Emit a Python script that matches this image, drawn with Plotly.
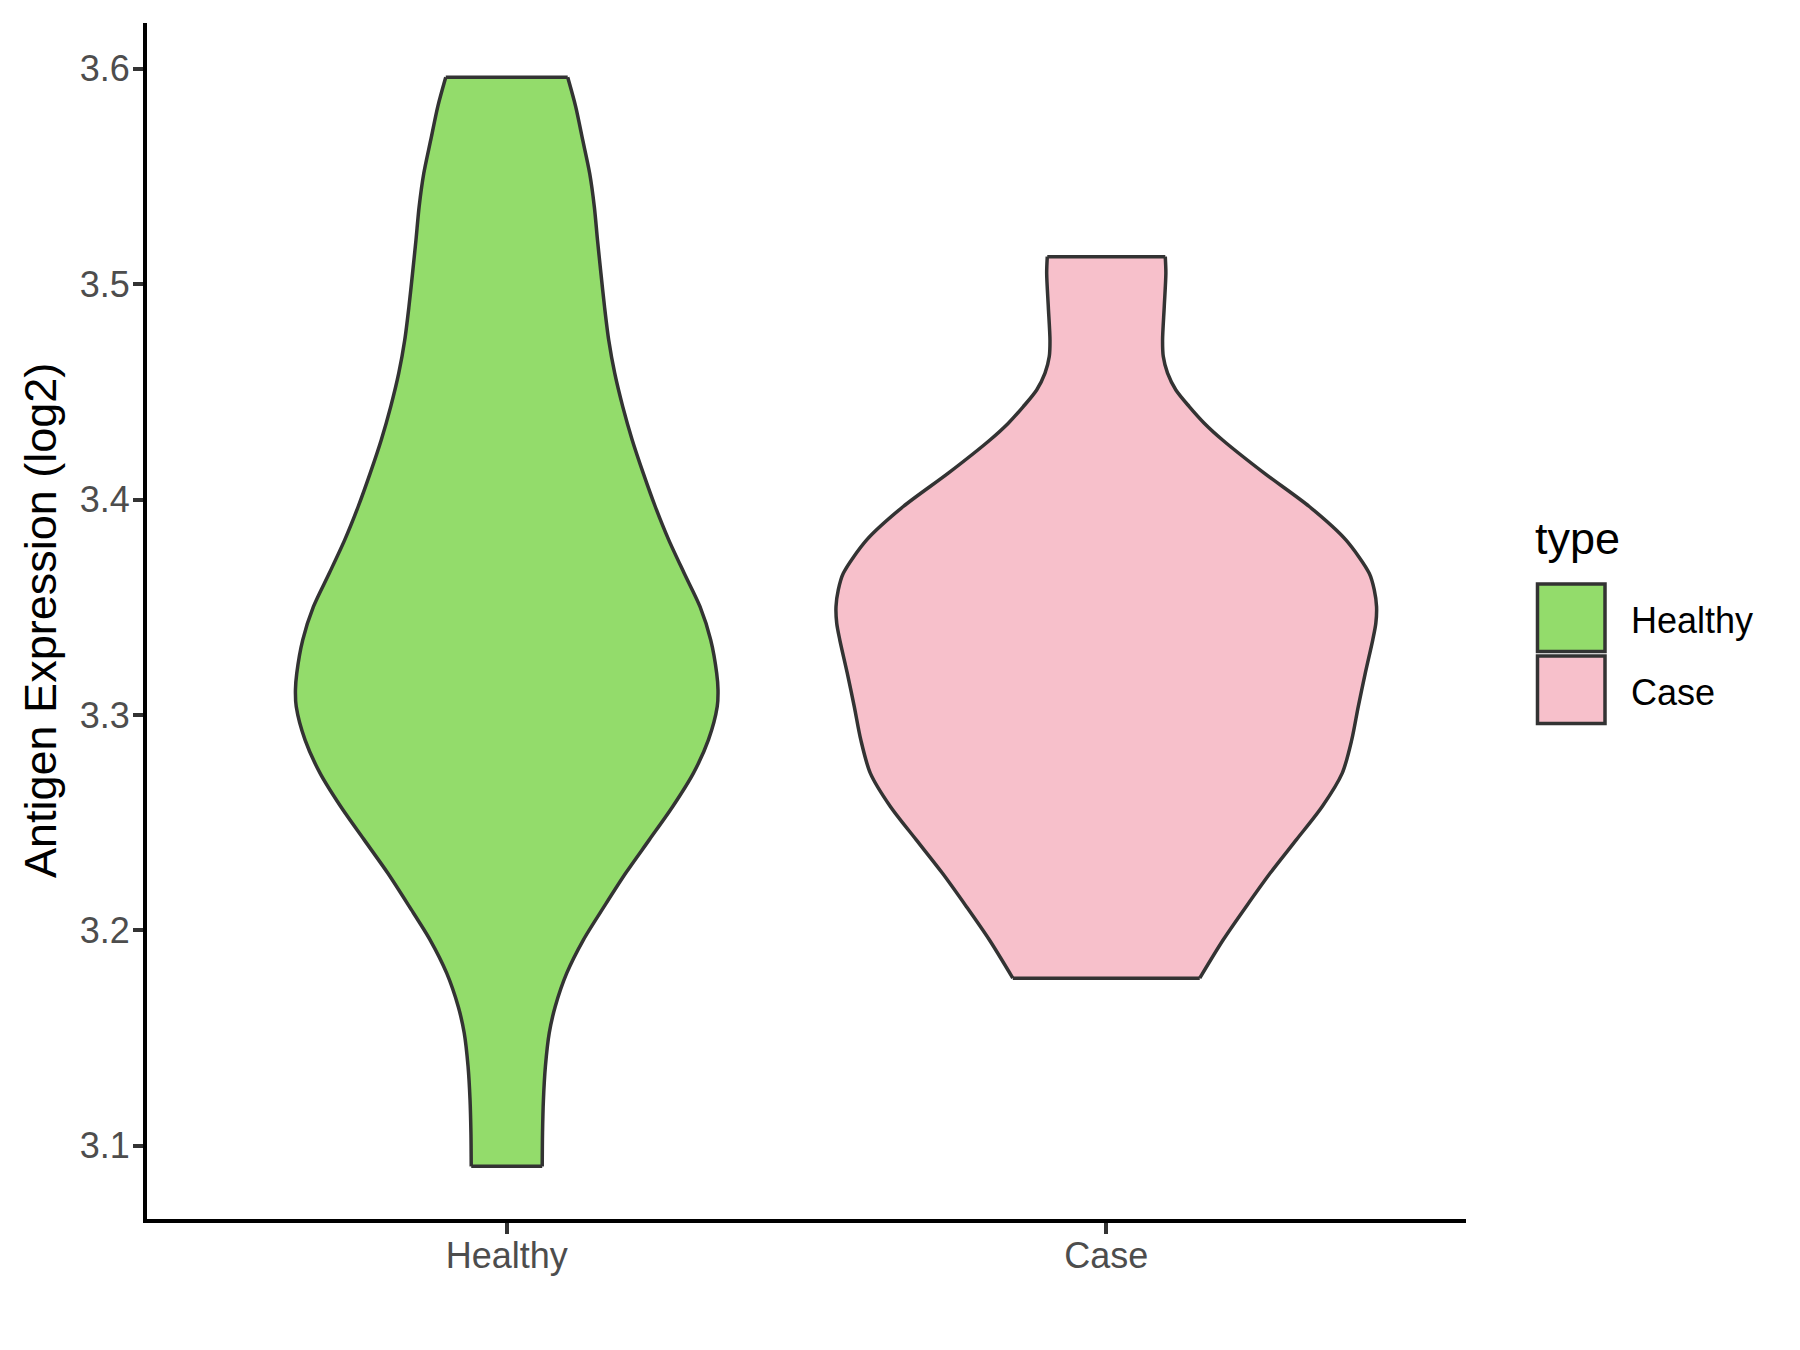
import plotly.graph_objects as go

# ---- data ----
categories = ["Healthy", "Case"]
category_pos = [1, 2]
fill_colors = ["#93DC6B", "#F7C0CB"]

healthy_y = [3.0904, 3.1059, 3.1213, 3.1368, 3.1523, 3.1646, 3.1801, 3.1956, 3.2111,
             3.2266, 3.2420, 3.2575, 3.2730, 3.2884, 3.3039, 3.3117, 3.3194, 3.3349,
             3.3503, 3.3658, 3.3813, 3.3968, 3.4123, 3.4277, 3.4432, 3.4587, 3.4741,
             3.4896, 3.5051, 3.5205, 3.5360, 3.5514, 3.5669, 3.5824, 3.5961]
healthy_halfwidth = [0.0592, 0.0597, 0.0612, 0.0645, 0.0709, 0.0809, 0.1001, 0.1279, 0.1626,
                     0.1985, 0.2377, 0.2769, 0.3114, 0.3364, 0.3511, 0.3524, 0.3502, 0.3402,
                     0.3224, 0.2960, 0.2702, 0.2477, 0.2277, 0.2093, 0.1935, 0.1801, 0.1701,
                     0.1631, 0.1571, 0.1514, 0.1461, 0.1384, 0.1268, 0.1151, 0.1017]

case_y = [3.1778, 3.1956, 3.2111, 3.2266, 3.2420, 3.2575, 3.2730, 3.2884, 3.3039,
          3.3194, 3.3349, 3.3426, 3.3503, 3.3581, 3.3658, 3.3813, 3.3968, 3.4123,
          3.4277, 3.4355, 3.4432, 3.4509, 3.4587, 3.4664, 3.4741, 3.4896, 3.5051, 3.5128]
case_halfwidth = [0.1559, 0.1951, 0.2335, 0.2735, 0.3169, 0.3602, 0.3936, 0.4094, 0.4203,
                  0.4320, 0.4445, 0.4496, 0.4508, 0.4470, 0.4386, 0.3996, 0.3386, 0.2635,
                  0.1940, 0.1634, 0.1384, 0.1161, 0.1022, 0.0951, 0.0939, 0.0967, 0.0994, 0.0984]

y_ticks = [3.1, 3.2, 3.3, 3.4, 3.5, 3.6]
y_ticktext = ["3.1", "3.2", "3.3", "3.4", "3.5", "3.6"]
y_title = "Antigen Expression (log2)"
legend_title = "type"

FONT = "Liberation Sans, Arial, sans-serif"
OUTLINE = "#333333"
LW = 3.5

fig = go.Figure()

profiles = [(healthy_y, healthy_halfwidth), (case_y, case_halfwidth)]
for name, pos, col, (ys, hw) in zip(categories, category_pos, fill_colors, profiles):
    right_x = [pos + w for w in hw]
    left_x = [pos - w for w in hw]
    # filled body (no outline)
    fig.add_trace(go.Scatter(
        x=right_x + left_x[::-1], y=list(ys) + list(ys)[::-1],
        mode="lines", fill="toself", fillcolor=col,
        line=dict(color="rgba(0,0,0,0)", width=0),
        name=name, showlegend=False, hoverinfo="skip"))
    # outline: two smooth sides plus straight top and bottom edges
    ox = right_x + [None] + left_x + [None] + [left_x[-1], right_x[-1]] + [None] + [left_x[0], right_x[0]]
    oy = list(ys) + [None] + list(ys) + [None] + [ys[-1], ys[-1]] + [None] + [ys[0], ys[0]]
    fig.add_trace(go.Scatter(
        x=ox, y=oy, mode="lines", connectgaps=False,
        line=dict(color=OUTLINE, width=LW, shape="spline", smoothing=0.8),
        showlegend=False, hoverinfo="skip"))

# plot area in pixels
L, R, T, B = 147, 1466, 23, 1219
W, H = 1800, 1350

def px(xp):
    return (xp - L) / (R - L)

def py(yp):
    return (B - yp) / (B - T)

fig.update_layout(
    width=W, height=H,
    margin=dict(l=L, r=W - R, t=T, b=H - B, pad=0),
    paper_bgcolor="white", plot_bgcolor="white",
    showlegend=False,
    font=dict(family=FONT),
)
fig.update_xaxes(
    range=[0.4, 2.6], tickvals=category_pos, ticktext=categories,
    showline=True, linecolor="black", linewidth=4,
    ticks="outside", ticklen=11, tickwidth=3.5, tickcolor=OUTLINE,
    tickfont=dict(size=36, color="#4D4D4D", family=FONT),
    showgrid=False, zeroline=False, ticklabelstandoff=-9,
)
fig.update_yaxes(
    range=[3.06596, 3.62131], tickvals=y_ticks, ticktext=y_ticktext,
    showline=True, linecolor="black", linewidth=4,
    ticks="outside", ticklen=10, tickwidth=3.5, tickcolor=OUTLINE,
    tickfont=dict(size=36, color="#4D4D4D", family=FONT),
    showgrid=False, zeroline=False, ticklabelstandoff=-4,
)

# y-axis title
fig.add_annotation(text=y_title, xref="paper", yref="paper", x=px(40), y=0.5,
                   textangle=-90, showarrow=False, xanchor="center", yanchor="middle",
                   font=dict(size=45, color="black", family=FONT))

# legend (drawn manually to match ggplot key sizes)
fig.add_annotation(text=legend_title, xref="paper", yref="paper", x=px(1533), y=py(538),
                   showarrow=False, xanchor="left", yanchor="middle",
                   font=dict(size=45, color="black", family=FONT))
key_tops = [584, 656]
key_size = 67.5
for name, col, top in zip(categories, fill_colors, key_tops):
    fig.add_shape(type="rect", xref="paper", yref="paper",
                  x0=px(1537.5), x1=px(1537.5 + key_size), y0=py(top + key_size), y1=py(top),
                  line=dict(color=OUTLINE, width=LW), fillcolor=col)
    fig.add_annotation(text=name, xref="paper", yref="paper", x=px(1629), y=py(top + key_size / 2 + 2.5),
                       showarrow=False, xanchor="left", yanchor="middle",
                       font=dict(size=36, color="black", family=FONT))

fig.write_html("out.html", config={"displayModeBar": False},
               post_script="document.body.style.margin='0';")
